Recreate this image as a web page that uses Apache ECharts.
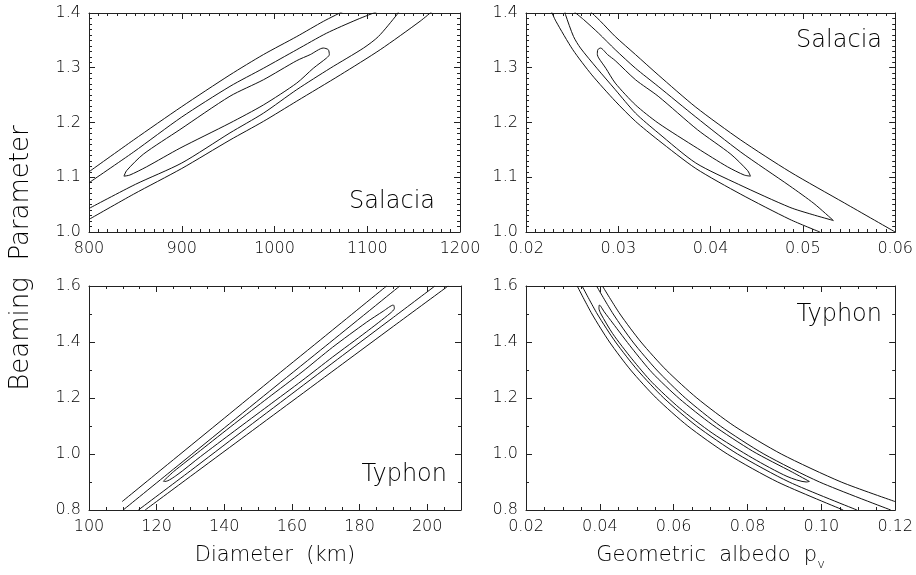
<!DOCTYPE html>
<html>
<head>
<meta charset="utf-8">
<script src="https://cdn.jsdelivr.net/npm/echarts@6/dist/echarts.min.js"></script>
<style>
  html, body { margin: 0; padding: 0; background: #fff; }
  #chart { width: 916px; height: 575px; }
</style>
</head>
<body>
<div id="chart"></div>
<script>
// tick labels
const salDiamTicks = ['800', '900', '1000', '1100', '1200'];
const salAlbTicks = ['0.02', '0.03', '0.04', '0.05', '0.06'];
const salBeamTicks = ['1.0', '1.1', '1.2', '1.3', '1.4'];
const typDiamTicks = ['100', '120', '140', '160', '180', '200'];
const typAlbTicks = ['0.02', '0.04', '0.06', '0.08', '0.10', '0.12'];
const typBeamTicks = ['0.8', '1.0', '1.2', '1.4', '1.6'];

// Salacia, diameter (km) vs beaming parameter
const salDiamOuterA = [[800, 1.110], [848, 1.168], [900, 1.229], [952, 1.287], [988, 1.324], [1024, 1.357], [1053, 1.385], [1074, 1.403]];
const salDiamMidA = [[800, 1.090], [848, 1.146], [900, 1.210], [952, 1.266], [988, 1.299], [1024, 1.333], [1056, 1.363], [1089, 1.388], [1110, 1.402]];
const salDiamInner = [[837.7, 1.102], [840.5, 1.112], [858.5, 1.142], [898, 1.187], [952, 1.248], [988, 1.278], [1024, 1.313], [1038.5, 1.324],
  [1052.6, 1.336], [1058, 1.333], [1059.1, 1.324], [1056.3, 1.318], [1041.8, 1.299], [1024, 1.272], [988, 1.232], [952, 1.199],
  [898, 1.153], [862, 1.119], [844, 1.104], [837.7, 1.102]];
const salDiamMidB = [[800, 1.043], [850, 1.087], [900, 1.126], [952, 1.181], [988, 1.217], [1024, 1.260], [1060, 1.299], [1096, 1.336], [1112, 1.357], [1132, 1.397], [1134, 1.403]];
const salDiamOuterB = [[800, 1.023], [848, 1.069], [900, 1.116], [952, 1.168], [988, 1.202], [1024, 1.239], [1071, 1.287], [1114, 1.333], [1157, 1.385], [1170, 1.403]];

// Salacia, geometric albedo vs beaming parameter
const salAlbOuterA = [[0.02695, 1.403], [0.02807, 1.385], [0.02967, 1.357], [0.03187, 1.324], [0.03432, 1.287], [0.03840, 1.228], [0.04327, 1.168], [0.04859, 1.110], [0.0545, 1.053], [0.0600, 1.000]];
const salAlbMid = [[0.02421, 1.403], [0.02428, 1.397], [0.02515, 1.357], [0.02590, 1.336], [0.02769, 1.299], [0.02967, 1.260], [0.03187, 1.217],
  [0.03432, 1.181], [0.03840, 1.126], [0.04304, 1.087], [0.04859, 1.045], [0.0510, 1.032], [0.0533, 1.021], [0.0512, 1.052],
  [0.04859, 1.084], [0.04327, 1.146], [0.03840, 1.210], [0.03432, 1.266], [0.03187, 1.299], [0.02967, 1.333], [0.02787, 1.363], [0.02624, 1.388], [0.02523, 1.402]];
const salAlbInner = [[0.04432, 1.102], [0.04402, 1.112], [0.04220, 1.142], [0.03856, 1.187], [0.03432, 1.248], [0.03187, 1.278], [0.02967, 1.313],
  [0.02884, 1.324], [0.02807, 1.336], [0.02778, 1.333], [0.02773, 1.324], [0.02787, 1.318], [0.02865, 1.299], [0.02967, 1.272], [0.03187, 1.232],
  [0.03432, 1.199], [0.03856, 1.153], [0.04184, 1.119], [0.04364, 1.104], [0.04432, 1.102]];
const salAlbOuterB = [[0.02274, 1.403], [0.02324, 1.385], [0.02507, 1.333], [0.02713, 1.287], [0.02967, 1.239], [0.03187, 1.202], [0.03432, 1.168], [0.03840, 1.116], [0.04327, 1.069], [0.04859, 1.023], [0.05184, 1.000]];

// Typhon, diameter (km) vs beaming parameter
const typDiamOuterA = [[109.8, 0.830], [125, 0.980], [140, 1.128], [155, 1.276], [170, 1.423], [188, 1.600]];
const typDiamMidA = [[110.1, 0.800], [125, 0.946], [140, 1.093], [155, 1.240], [170, 1.386], [191.9, 1.600]];
const typDiamInner = [[122, 0.903], [125, 0.937], [133, 1.013], [143, 1.108], [153, 1.201], [163, 1.293], [172, 1.381], [182, 1.470], [187, 1.510],
  [190, 1.532], [190.3, 1.520], [189, 1.502], [182, 1.436], [172, 1.346], [163, 1.262], [153, 1.172], [143, 1.082], [133, 0.991], [126, 0.925], [122.5, 0.902], [122, 0.903]];
const typDiamMidB = [[114.6, 0.800], [130, 0.940], [145, 1.078], [160, 1.215], [175, 1.352], [190, 1.488], [202.3, 1.600]];
const typDiamOuterB = [[116.6, 0.800], [130, 0.920], [145, 1.054], [160, 1.188], [175, 1.322], [190, 1.456], [206.2, 1.600]];

// Typhon, geometric albedo vs beaming parameter
const typAlbOuterA = [[0.0407, 1.6], [0.04545, 1.5], [0.05114, 1.4], [0.05798, 1.3], [0.06628, 1.2], [0.07639, 1.1], [0.08914, 1.0], [0.10537, 0.9], [0.1200, 0.83]];
const typAlbMidA = [[0.0391, 1.6], [0.04362, 1.5], [0.04896, 1.4], [0.05541, 1.3], [0.06315, 1.2], [0.07264, 1.1], [0.08443, 1.0], [0.0995, 0.9], [0.1188, 0.8]];
const typAlbInner = [[0.09675, 0.902], [0.09216, 0.935], [0.08141, 1.010], [0.07042, 1.105], [0.06151, 1.198], [0.0542, 1.29], [0.04867, 1.378],
  [0.04347, 1.468], [0.04118, 1.508], [0.03989, 1.532], [0.03976, 1.52], [0.04031, 1.5], [0.04347, 1.43], [0.04867, 1.34], [0.0542, 1.255],
  [0.06151, 1.165], [0.07042, 1.075], [0.08141, 0.985], [0.0907, 0.92], [0.09596, 0.9], [0.09675, 0.902]];
const typAlbMidB = [[0.03519, 1.6], [0.03931, 1.5], [0.04425, 1.4], [0.05018, 1.3], [0.05732, 1.2], [0.06619, 1.1], [0.07729, 1.0], [0.09128, 0.9], [0.10965, 0.8]];
const typAlbOuterB = [[0.03387, 1.6], [0.03787, 1.5], [0.04262, 1.4], [0.04834, 1.3], [0.05528, 1.2], [0.06383, 1.1], [0.07453, 1.0], [0.08817, 0.9], [0.10592, 0.8]];

const font = "'DejaVu Sans', sans-serif";
const fontWeight = 200;
const frameColor = '#222';
const textColor = '#000';

function makeAxis(kind, gridIndex, position, min, max, interval, minor, labels, extra) {
  const axis = {
    type: 'value',
    gridIndex,
    position,
    min,
    max,
    interval,
    axisLine: { show: true, onZero: false, lineStyle: { color: frameColor, width: 1 } },
    axisTick: { show: true, inside: true, length: 6, lineStyle: { color: frameColor } },
    minorTick: { show: true, splitNumber: minor, length: 3, lineStyle: { color: frameColor } },
    splitLine: { show: false },
    minorSplitLine: { show: false },
    axisLabel: { show: false },
  };
  if (labels) {
    axis.axisLabel = {
      show: true,
      margin: kind === 'x' ? 9 : 8,
      fontSize: 16,
      fontFamily: font,
      fontWeight,
      color: textColor,
      formatter: (v, i) => labels[i] || '',
    };
  }
  return Object.assign(axis, extra || {});
}

const nameStyle = {
  fontSize: 21,
  fontFamily: font,
  fontWeight,
  color: textColor,
  lineHeight: 30,
  rich: { s: { fontSize: 13, lineHeight: 13, verticalAlign: 'bottom', fontFamily: font, fontWeight, color: textColor } },
};

const xAxes = [
  makeAxis('x', 0, 'bottom', 800, 1200, 100, 10, salDiamTicks),
  makeAxis('x', 1, 'bottom', 0.02, 0.06, 0.01, 10, salAlbTicks),
  makeAxis('x', 2, 'bottom', 100, 210, 20, 4, typDiamTicks, {
    name: 'Diameter  (km)', nameLocation: 'middle', nameGap: 31, nameTextStyle: nameStyle,
  }),
  makeAxis('x', 3, 'bottom', 0.02, 0.12, 0.02, 4, typAlbTicks, {
    name: 'Geometric  albedo  p{s|v}', nameLocation: 'middle', nameGap: 31, nameTextStyle: nameStyle,
  }),
  makeAxis('x', 0, 'top', 800, 1200, 100, 10),
  makeAxis('x', 1, 'top', 0.02, 0.06, 0.01, 10),
  makeAxis('x', 2, 'top', 100, 210, 20, 4),
  makeAxis('x', 3, 'top', 0.02, 0.12, 0.02, 4),
];

const yAxes = [
  makeAxis('y', 0, 'left', 1.0, 1.4, 0.1, 10, salBeamTicks),
  makeAxis('y', 1, 'left', 1.0, 1.4, 0.1, 10, salBeamTicks),
  makeAxis('y', 2, 'left', 0.8, 1.6, 0.2, 2, typBeamTicks),
  makeAxis('y', 3, 'left', 0.8, 1.6, 0.2, 2, typBeamTicks),
  makeAxis('y', 0, 'right', 1.0, 1.4, 0.1, 10),
  makeAxis('y', 1, 'right', 1.0, 1.4, 0.1, 10),
  makeAxis('y', 2, 'right', 0.8, 1.6, 0.2, 2),
  makeAxis('y', 3, 'right', 0.8, 1.6, 0.2, 2),
];
xAxes[2].axisLabel.showMaxLabel = false;

function contour(data, panel) {
  return {
    type: 'line',
    data,
    xAxisIndex: panel,
    yAxisIndex: panel,
    showSymbol: false,
    smooth: 0.25,
    clip: true,
    silent: true,
    lineStyle: { color: '#111', width: 1 },
  };
}

const series = [
  contour(salDiamOuterA, 0), contour(salDiamMidA, 0), contour(salDiamInner, 0), contour(salDiamMidB, 0), contour(salDiamOuterB, 0),
  contour(salAlbOuterA, 1), contour(salAlbMid, 1), contour(salAlbInner, 1), contour(salAlbOuterB, 1),
  contour(typDiamOuterA, 2), contour(typDiamMidA, 2), contour(typDiamInner, 2), contour(typDiamMidB, 2), contour(typDiamOuterB, 2),
  contour(typAlbOuterA, 3), contour(typAlbMidA, 3), contour(typAlbInner, 3), contour(typAlbMidB, 3), contour(typAlbOuterB, 3),
];

function panelLabel(text, right, y) {
  return {
    type: 'text',
    x: right,
    y,
    style: { text, fontSize: 24, fontFamily: font, fontWeight, fill: textColor, align: 'right', verticalAlign: 'middle' },
  };
}

const option = {
  animation: false,
  backgroundColor: '#fff',
  grid: [
    { left: 89, top: 13, width: 371, height: 219 },
    { left: 526, top: 13, width: 373, height: 219 },
    { left: 89, top: 286, width: 372, height: 224 },
    { left: 526, top: 286, width: 373, height: 224 },
  ],
  xAxis: xAxes,
  yAxis: yAxes,
  series,
  graphic: [
    {
      type: 'text',
      x: 21,
      y: 258,
      rotation: Math.PI / 2,
      style: { text: 'Beaming  Parameter', fontSize: 26, fontFamily: font, fontWeight, fill: textColor, align: 'center', verticalAlign: 'middle' },
    },
    panelLabel('Salacia', 435, 202),
    panelLabel('Salacia', 882, 41),
    panelLabel('Typhon', 447, 475),
    panelLabel('Typhon', 882, 315),
  ],
};

const chart = echarts.init(document.getElementById('chart'));
chart.setOption(option);
</script>
</body>
</html>
